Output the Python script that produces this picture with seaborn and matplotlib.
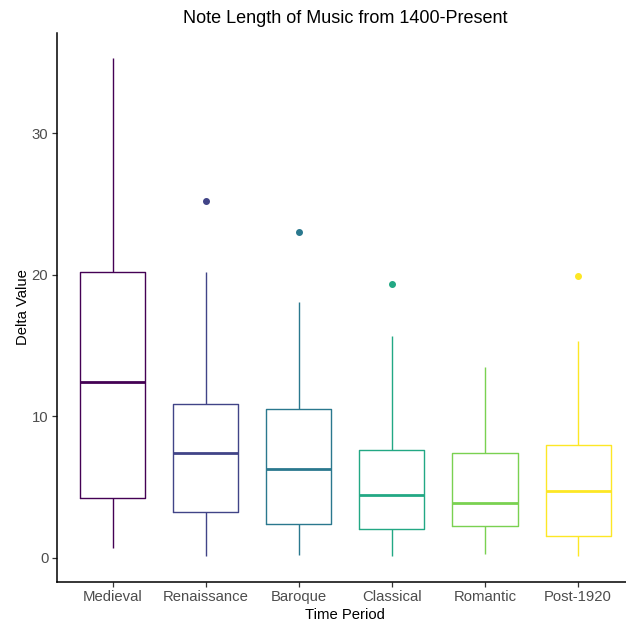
import numpy as np
import pandas as pd
import matplotlib
matplotlib.use("Agg")
import matplotlib.pyplot as plt
import seaborn as sns

# Values
periods = ["Medieval", "Renaissance", "Baroque", "Classical", "Romantic", "Post-1920"]
whisker_low = [0.7, 0.15, 0.2, 0.15, 0.25, 0.15]
q1 = [4.2, 3.2, 2.4, 2.05, 2.25, 1.55]
median = [12.4, 7.4, 6.3, 4.4, 3.9, 4.7]
q3 = [20.2, 10.9, 10.5, 7.6, 7.4, 7.95]
whisker_high = [35.3, 20.2, 18.1, 15.7, 13.5, 15.35]
outlier = [None, 25.2, 23.0, 19.35, None, 19.9]
colors = ["#440154", "#414487", "#2A788E", "#22A884", "#7AD151", "#FDE725"]

# Build a small sample per period whose box statistics equal the values above
rows = []
for i, p in enumerate(periods):
    top = outlier[i] if outlier[i] is not None else whisker_high[i]
    vals = [whisker_low[i], q1[i], q1[i], median[i], median[i], q3[i], q3[i],
            whisker_high[i], top]
    for v in vals:
        rows.append({"period": p, "value": v})
df = pd.DataFrame(rows)

sns.set_style("white")
plt.rcParams["font.family"] = ["Liberation Sans", "DejaVu Sans"]

fig = plt.figure(figsize=(6.26, 6.26), dpi=100)
ax = fig.add_axes([56.7 / 626, 1 - 581.7 / 626, (634 - 56.7) / 626, (581.7 - 33) / 626])

sns.boxplot(data=df, x="period", y="value", hue="period", order=periods,
            hue_order=periods, palette=colors, fill=False, width=0.7, whis=1.5,
            showcaps=False, linewidth=1.0, legend=False, ax=ax,
            flierprops=dict(marker="o", markersize=4),
            medianprops=dict(linewidth=2.0))

for ln in ax.lines:
    if ln.get_marker() == "o":
        ln.set_markerfacecolor(ln.get_markeredgecolor())

ax.set_xlim(-0.6, 5.6)
ax.set_ylim(-1.7, 37.1)
ax.set_yticks([0, 10, 20, 30])

for side in ["top", "right"]:
    ax.spines[side].set_visible(False)
for side in ["left", "bottom"]:
    ax.spines[side].set_color("black")
    ax.spines[side].set_linewidth(1.1)

ax.tick_params(axis="both", which="major", length=3.5, width=0.9, color="#333333",
               labelsize=10.7, labelcolor="#4D4D4D", pad=2.5, left=True, bottom=True)

ax.set_xlabel("Time Period", fontsize=10.7, color="black", labelpad=3)
ax.set_ylabel("Delta Value", fontsize=10.7, color="black", labelpad=1)
ax.set_title("Note Length of Music from 1400-Present", fontsize=13, color="black", pad=7)

fig.savefig("out.png", dpi=100)
